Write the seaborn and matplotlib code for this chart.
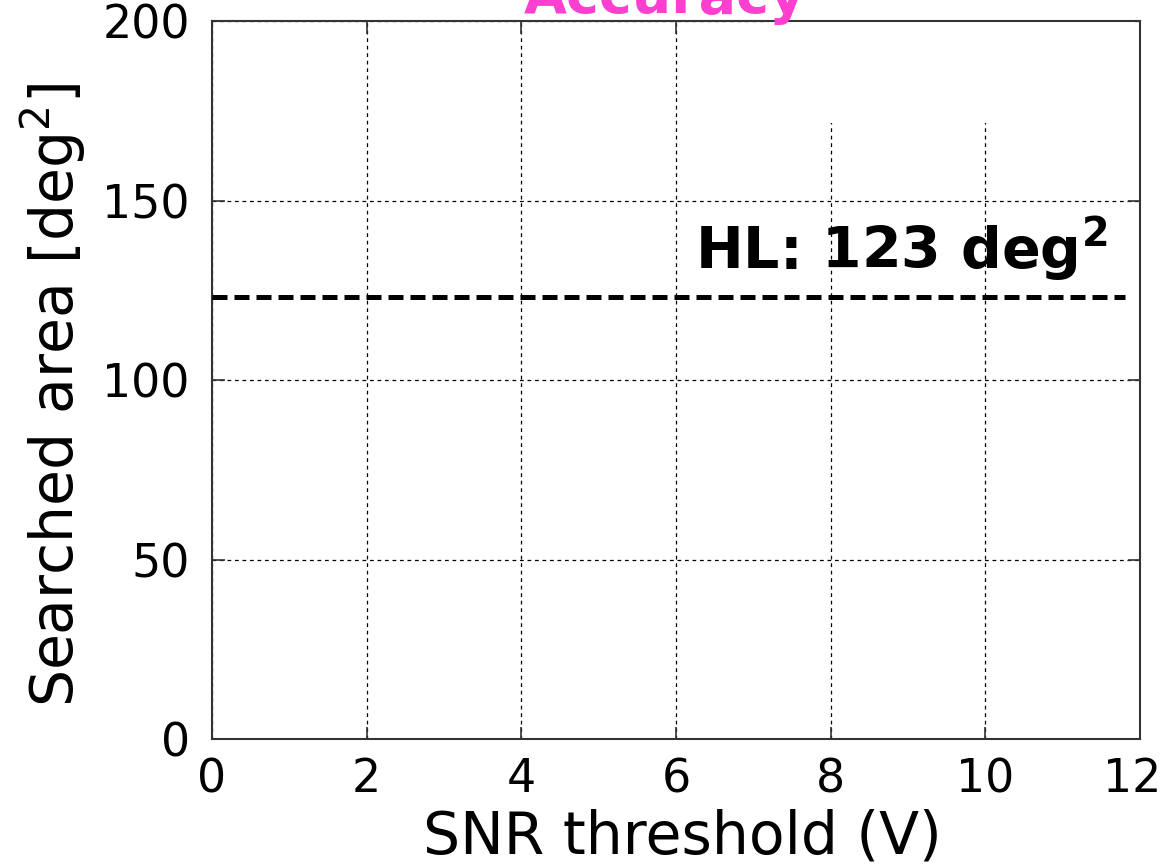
import matplotlib
matplotlib.use("Agg")
import matplotlib.pyplot as plt
import matplotlib.transforms as mtransforms
import seaborn as sns
import pandas as pd
from matplotlib.patches import Rectangle

# data
x_ticks = [0, 2, 4, 6, 8, 10, 12]
y_ticks = [0, 50, 100, 150, 200]
hl_x = [0, 11.8]
hl_area = [123, 123]
hl_label = "HL: 123 deg$^\\mathbf{2}$"
title = "Accuracy"

sns.set_theme(style="white")
plt.rcParams['font.family'] = ['DejaVu Sans']
plt.rcParams['mathtext.fontset'] = 'dejavusans'

fig = plt.figure(figsize=(11.66, 8.68), dpi=100)
ax = fig.add_axes([0.1818, 0.1486, 0.9777 - 0.1818, 0.9758 - 0.1486])

df = pd.DataFrame({"x": hl_x, "y": hl_area})
sns.lineplot(data=df, x="x", y="y", ax=ax, color="black", linewidth=3.6,
             zorder=3)
ax.lines[-1].set_dashes((3, 1.4))

ax.set_xlim(0, 12)
ax.set_ylim(0, 200)
ax.set_xticks(x_ticks)
ax.set_yticks(y_ticks)
ax.grid(True, color="black", linestyle=(0, (3, 3)), linewidth=0.9)
ax.set_axisbelow(True)

# white box hiding part of the grid (upper right)
ax.add_patch(Rectangle((0.6, 0.858), 0.395, 0.142, transform=ax.transAxes,
                       facecolor="white", edgecolor="none", zorder=1))

for s in ax.spines.values():
    s.set_color("#333333")
    s.set_linewidth(1.5)
    s.set_visible(True)

ax.tick_params(axis="both", which="major", direction="in", length=9,
               width=1.2, color="#333333", labelsize=33, labelcolor="black",
               top=True, right=True, bottom=True, left=True)
ax.tick_params(axis="y", pad=16)
ax.tick_params(axis="x", pad=13)

# nudge the last x tick label left so it stays inside the figure
last = ax.get_xticklabels()[-1]
last.set_transform(last.get_transform() +
                   mtransforms.ScaledTranslation(-0.08, 0, fig.dpi_scale_trans))

ax.set_xlabel("SNR threshold (V)", fontsize=42, color="black")
ax.set_ylabel("Searched area [deg$^2$]", fontsize=42, color="black")
ax.xaxis.set_label_coords(0.5065, -0.097)
ax.yaxis.set_label_coords(-0.134, 0.479)

ax.text(6.25, 131, hl_label, fontsize=41, fontweight="bold", color="black",
        ha="left", va="baseline", zorder=4)

fig.text(0.570, 0.985, title, fontsize=40, fontweight="bold", color="#FF3FD0",
         ha="center", va="baseline")

fig.savefig("out.png", dpi=100)
